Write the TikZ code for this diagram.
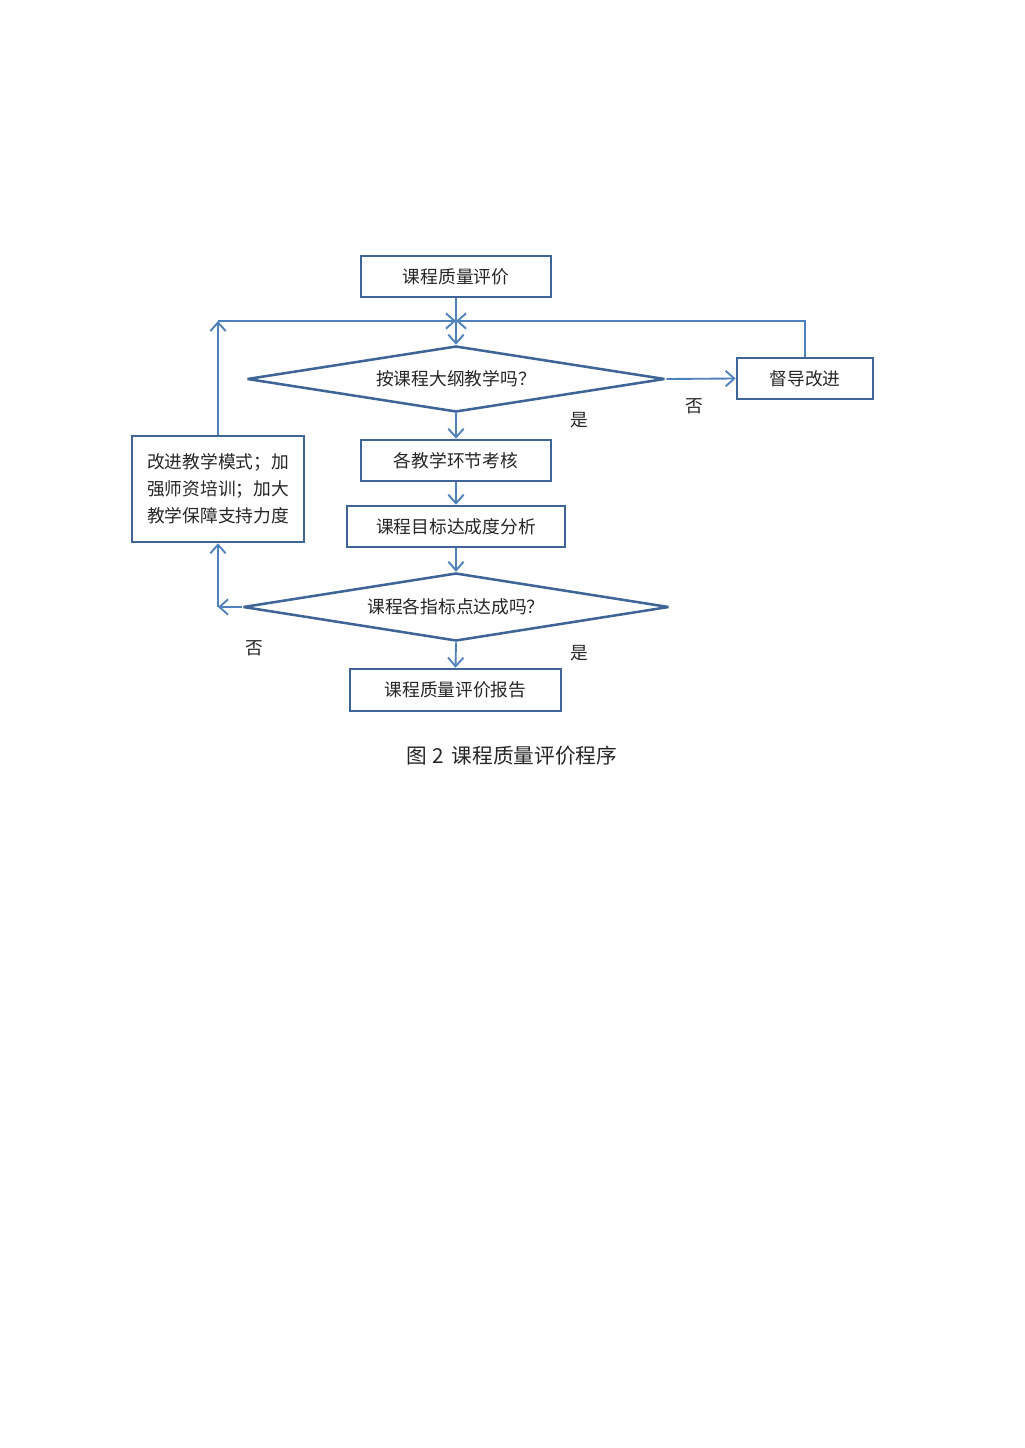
\documentclass[tikz,border=0pt]{standalone}
\usepackage{fontspec}
\setmainfont{Noto Sans CJK SC}
\usetikzlibrary{shapes.geometric,arrows.meta}
\definecolor{boxc}{HTML}{3E6595}
\definecolor{linec}{HTML}{4F81BD}
\begin{document}
\begin{tikzpicture}[x=0.75pt,y=-0.75pt,
  every node/.style={font=\fontsize{13.3}{16}\selectfont, text=black!85},
  procbox/.style={draw=boxc, line width=1.9pt, rectangle, inner sep=0pt},
  decis/.style={draw=boxc, line width=1.9pt, diamond, inner sep=0pt, aspect=6.3, miter limit=4},
  conn/.style={draw=linec, line width=1.4pt},
  arr/.style={conn, -{Straight Barb[length=6.5pt,width=11.5pt,line width=1.4pt]}},
  lab/.style={inner sep=0pt}
]
\useasboundingbox (0,0) rectangle (1024,1448);
\fill[white] (0,0) rectangle (1024,1448);

\node[procbox, minimum width={190*0.75pt}, minimum height={41*0.75pt}] (start) at (456,276.5) {课程质量评价};
\node[decis, minimum width={418*0.75pt}, minimum height={66*0.75pt}] (d1) at (456,379) {按课程大纲教学吗？};
\node[procbox, minimum width={136*0.75pt}, minimum height={41*0.75pt}] (sup) at (805,378.5) {督导改进};
\node[procbox, minimum width={190*0.75pt}, minimum height={41*0.75pt}] (exam) at (456,460.5) {各教学环节考核};
\node[procbox, minimum width={218*0.75pt}, minimum height={41*0.75pt}] (ana) at (456,526.5) {课程目标达成度分析};
\node[decis, minimum width={426*0.75pt}, minimum height={68*0.75pt}] (d2) at (456,607) {课程各指标点达成吗？};
\node[procbox, minimum width={211*0.75pt}, minimum height={42*0.75pt}] (rep) at (455.5,690) {课程质量评价报告};
\node[procbox, minimum width={172*0.75pt}, minimum height={106*0.75pt}, align=left,
  font=\fontsize{13.3}{20.25}\selectfont] (imp) at (218,489) {改进教学模式；加\\强师资培训；加大\\教学保障支持力度};

\coordinate (mj) at (456,321);
\coordinate (tl) at (imp.north |- mj);
\coordinate (bl) at (imp.south |- d2.west);

\draw[arr] (start.south) -- (d1.north);
\draw[arr] (imp.north) -- (tl);
\draw[arr] (tl) -- (mj);
\draw[arr] (sup.north) |- (mj);
\draw[arr] (d1.east) -- (sup.west);
\draw[arr] (d1.south) -- (exam.north);
\draw[arr] (exam.south) -- (ana.north);
\draw[arr] (ana.south) -- (d2.north);
\draw[arr] (d2.west) -- (bl);
\draw[arr] (bl) -- (imp.south);
\draw[arr] (d2.south) -- (rep.north);

\node[lab] (no1) at (694,406) {否};
\node[lab] (yes1) at (579,420) {是};
\node[lab] (no2) at (254,648) {否};
\node[lab] (yes2) at (579,653) {是};

\node[lab, font=\fontsize{15.5}{18}\selectfont] (cap) at (512,756) {图 2\, 课程质量评价程序};
\end{tikzpicture}
\end{document}
